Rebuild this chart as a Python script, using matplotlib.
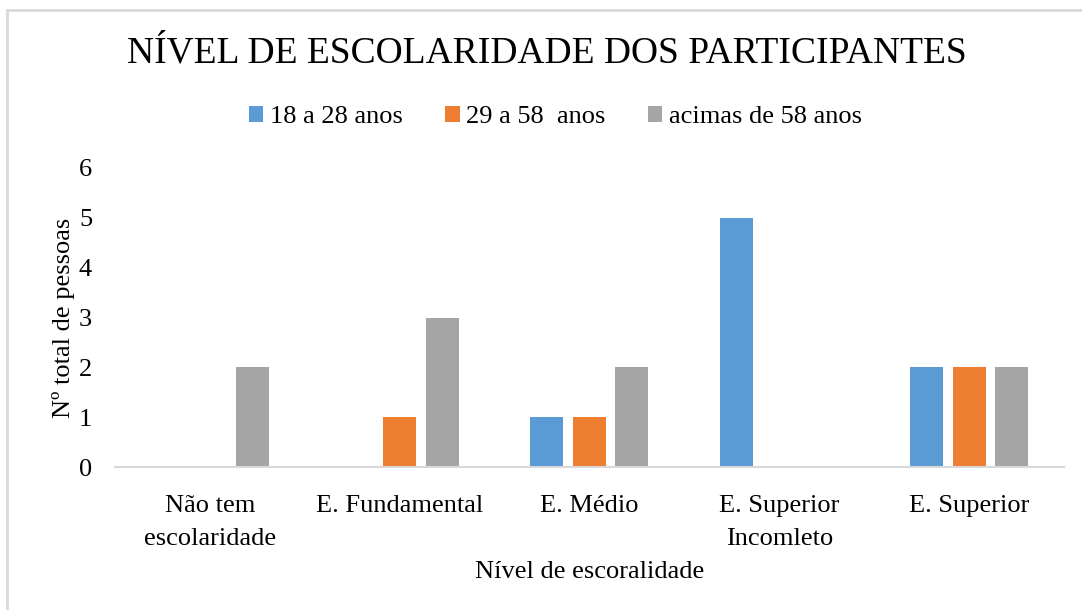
import numpy as np
import matplotlib.pyplot as plt
from matplotlib.patches import Rectangle

plt.rcParams['font.family'] = ['Liberation Serif', 'DejaVu Serif']

categorias = ['Não tem\nescolaridade', 'E. Fundamental', 'E. Médio',
              'E. Superior\nIncomleto', 'E. Superior']
series = ['18 a 28 anos', '29 a 58  anos', 'acimas de 58 anos']
v_18_28 = [0, 0, 1, 5, 2]
v_29_58 = [0, 1, 1, 0, 2]
v_58 = [2, 3, 2, 0, 2]
cores = ['#5b9bd5', '#ed7d31', '#a5a5a5']

fig = plt.figure(figsize=(10.82, 6.1), dpi=100)
ax = fig.add_axes([0.1063, 0.2344, 0.877, 0.4902])

x = np.arange(len(categorias))
w = 0.174
passo = 0.224
for i, (vals, nome) in enumerate(zip([v_18_28, v_29_58, v_58], series)):
    ax.bar(x + (i - 1) * passo, vals, w, color=cores[i], label=nome)

ax.set_xlim(-0.5, len(categorias) - 0.5)
ax.set_ylim(0, 6)
ax.set_yticks(range(0, 7))
ax.set_xticks(x)
ax.set_xticklabels(categorias, fontsize=19, linespacing=1.65)
ax.tick_params(axis='y', labelsize=19, length=0, pad=16.5)
ax.tick_params(axis='x', length=0, pad=20)
for s in ['top', 'right', 'left']:
    ax.spines[s].set_visible(False)
ax.spines['bottom'].set_color('#d9d9d9')
ax.spines['bottom'].set_linewidth(1.5)

ax.set_xlabel('Nível de escoralidade', fontsize=19, labelpad=8)
ax.set_ylabel('Nº total de pessoas', fontsize=19, labelpad=3)

fig.text(0.505, 0.913, 'NÍVEL DE ESCOLARIDADE DOS PARTICIPANTES',
         ha='center', va='center', fontsize=27)
fig.legend(loc='center', bbox_to_anchor=(0.5134, 0.808), ncol=3, frameon=False,
           fontsize=19, handlelength=0.55, handleheight=0.55, columnspacing=1.6,
           handletextpad=0.25)

# moldura só visível em cima e à esquerda (imagem recortada)
fig.patches.append(Rectangle((0.0065, -0.05), 1.1, 1.0336, transform=fig.transFigure,
                             fill=False, edgecolor='#d9d9d9', linewidth=2))

fig.savefig('out.png', dpi=100)
